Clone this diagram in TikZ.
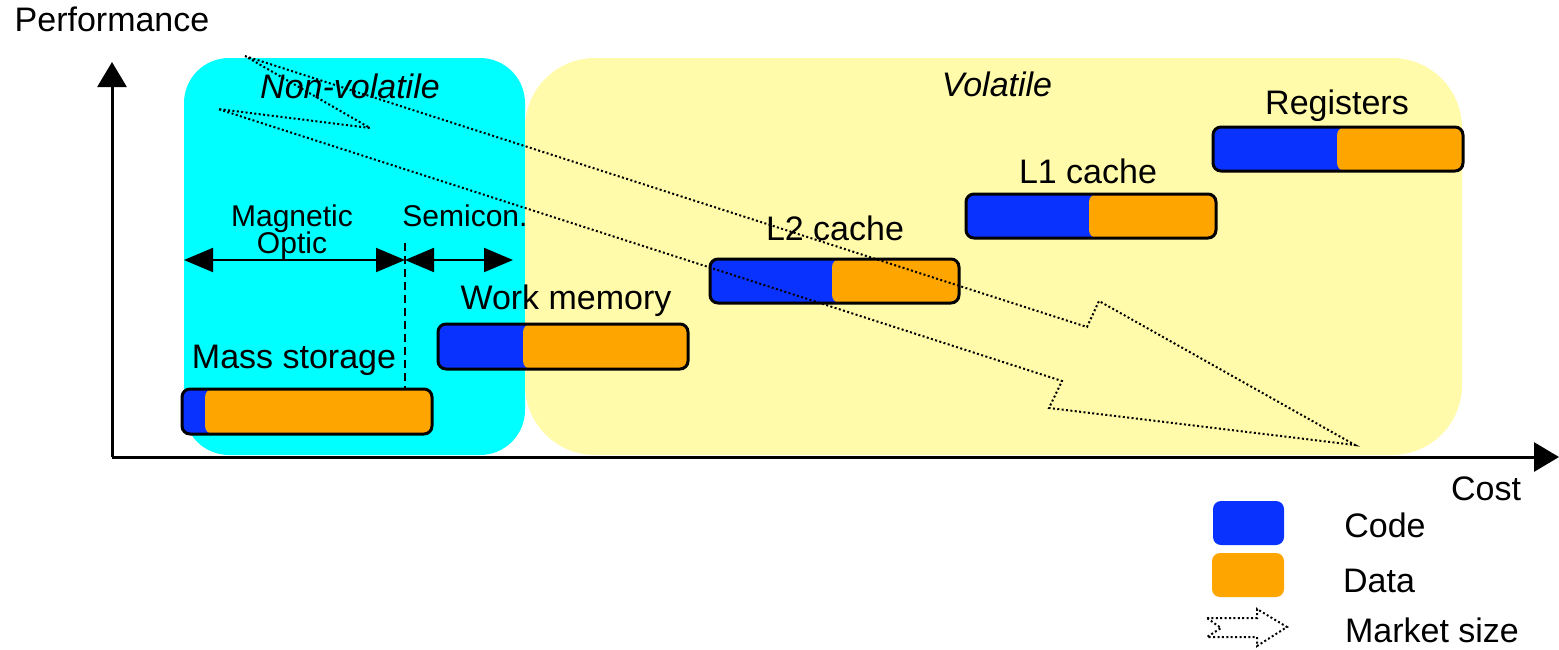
\documentclass[tikz,border=0pt]{standalone}
\usepackage{fontspec}
\setmainfont{Liberation Sans}
\usetikzlibrary{arrows.meta}
\definecolor{codeblue}{HTML}{0A32FF}
\definecolor{dataorange}{HTML}{FFA500}
\definecolor{nvcyan}{HTML}{00FFFF}
\definecolor{volyellow}{HTML}{FFFBAA}
\newcommand\mbar[6]{%
  \fill[codeblue, rounded corners=8pt] (#2,#3) rectangle (#5,#6);
  \fill[dataorange, rounded corners=8pt] (#4,#3) rectangle (#5,#6);
  \draw[barframe] (#2,#3) rectangle (#5,#6);
  \coordinate (#1) at ({(#2+#5)/2},{(#3+#6)/2});
}
\tikzset{
  barframe/.style={draw=black, line width=3pt, rounded corners=8pt},
  lbl/.style={anchor=base, inner sep=0pt, font=\fontsize{34}{40}\selectfont},
  smlbl/.style={anchor=base, inner sep=0pt, font=\fontsize{30}{36}\selectfont},
  axis/.style={line width=3pt, -{Triangle[width=29pt,length=25pt]}},
  span/.style={line width=2pt, {Triangle[width=24pt,length=29pt]}-{Triangle[width=24pt,length=29pt]}},
  market/.style={draw=black, line width=2pt, dash pattern=on 2pt off 2.4pt, line join=miter},
  legendbox/.style={rounded corners=8pt},
}
\begin{document}
\begin{tikzpicture}[x=1pt,y=-1pt]
\useasboundingbox (0,0) rectangle (1559,649);
% regions
\fill[nvcyan, rounded corners=45pt] (184,58) rectangle (525,455);
\fill[volyellow, rounded corners=70pt] (525,58) rectangle (1462,455);
% axes
\coordinate (origin) at (112,457);
\coordinate (ytip) at (112,62);
\coordinate (xtip) at (1559,457);
\draw[axis] (origin) -- (ytip);
\draw[axis] (origin) -- (xtip);
\node[lbl] (perf) at (112,31) {Performance};
\node[lbl] (cost) at (1486,500) {Cost};
% region labels
\node[lbl, font=\fontsize{34}{40}\selectfont\itshape] (nonvol) at (350,98) {Non-volatile};
\node[lbl, font=\fontsize{34}{40}\selectfont\itshape] (vol) at (997,96) {Volatile};
% bars
\mbar{ms}{182}{389}{205}{432}{434}
\mbar{wm}{438}{324}{523}{688}{369}
\mbar{ltwo}{710}{259}{832}{959}{303}
\mbar{lone}{966}{194}{1089}{1216}{238}
\mbar{reg}{1213}{127}{1337}{1463}{171}
\node[lbl] (mslbl) at (294,368) {Mass storage};
\node[lbl] (wmlbl) at (566,309) {Work memory};
\node[lbl] (ltwolbl) at (835,240) {L2 cache};
\node[lbl] (lonelbl) at (1088,183) {L1 cache};
\node[lbl] (reglbl) at (1337,114) {Registers};
% technology spans
\coordinate (magL) at (184,260);
\coordinate (split) at (405,260);
\coordinate (semR) at (513,260);
\coordinate (dashtop) at (405,243);
\coordinate (dashbot) at (405,389);
\draw[span] (magL) -- (split);
\draw[span] (split) -- (semR);
\draw[line width=2pt, dash pattern=on 8pt off 5pt] (dashtop) -- (dashbot);
\node[smlbl] (maglbl) at (292,226) {Magnetic};
\node[smlbl] (optlbl) at (292,253) {Optic};
\node[smlbl] (semlbl) at (465,226) {Semicon.};
% market size arrow
\draw[market] (245,56) -- (1087,327) -- (1099,301) -- (1355,445) -- (1049,408) -- (1062,381) -- (218,109) -- (370,128) -- cycle;
% legend
\fill[codeblue, legendbox] (1213,501) rectangle (1284,545);
\fill[dataorange, legendbox] (1212,553) rectangle (1284,597);
\draw[market] (1207,618) -- (1257,618) -- (1257,609) -- (1287,627) -- (1257,646) -- (1257,637) -- (1207,637) -- (1221,628) -- cycle;
\node[lbl] (codelbl) at (1385,537) {Code};
\node[lbl] (datalbl) at (1379,592) {Data};
\node[lbl] (mktlbl) at (1432,642) {Market size};
\end{tikzpicture}
\end{document}
